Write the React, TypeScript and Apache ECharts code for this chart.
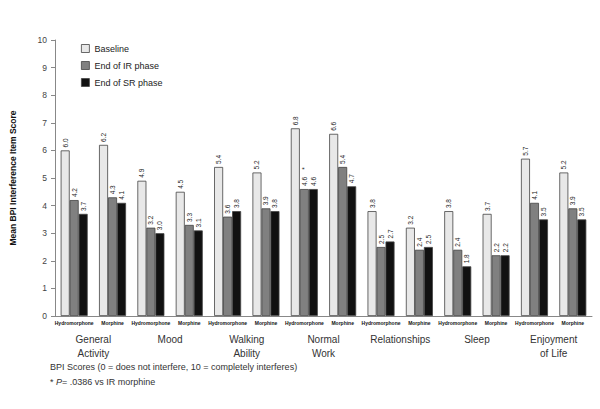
import React, { useEffect, useRef } from "react";
import * as echarts from "echarts";

const groups = ["General\nActivity", "Mood", "Walking\nAbility", "Normal\nWork", "Relationships", "Sleep", "Enjoyment\nof Life"];
const drugs = ["Hydromorphone", "Morphine"];
const seriesNames = ["Baseline", "End of IR phase", "End of SR phase"];
// order: per group [hydromorphone, morphine]
const baseline = [6.0, 6.2, 4.9, 4.5, 5.4, 5.2, 6.8, 6.6, 3.8, 3.2, 3.8, 3.7, 5.7, 5.2];
const endIR = [4.2, 4.3, 3.2, 3.3, 3.6, 3.9, 4.6, 5.4, 2.5, 2.4, 2.4, 2.2, 4.1, 3.9];
const endSR = [3.7, 4.1, 3.0, 3.1, 3.8, 3.8, 4.6, 4.7, 2.7, 2.5, 1.8, 2.2, 3.5, 3.5];
const starredIR = [6]; // index with * marker
const yTicks = [0, 1, 2, 3, 4, 5, 6, 7, 8, 9, 10];

const subCats = groups.flatMap(() => drugs);
const colors = ["#e8e8e8", "#808080", "#111111"];
const FONT = "Liberation Sans, Arial, sans-serif";

export default function App() {
  const ref = useRef<HTMLDivElement>(null);
  useEffect(() => {
    const chart = echarts.init(ref.current!, null, { renderer: "svg" });
    const mk = (name: string, vals: number[], idx: number) => ({
      name,
      type: "bar",
      xAxisIndex: 0,
      barWidth: 9,
      barGap: "0%",
      data: vals.map((v, i) => ({
        value: v,
        label:
          idx === 1 && starredIR.includes(i)
            ? { formatter: v.toFixed(1) + "    *" }
            : undefined,
      })),
      itemStyle: { color: colors[idx], borderColor: "#444", borderWidth: 0.8 },
      label: {
        show: true,
        position: "top",
        rotate: 90,
        align: "left",
        verticalAlign: "middle",
        distance: 3,
        fontSize: 6.5,
        fontFamily: FONT,
        color: "#222",
        formatter: (p: any) => Number(p.value).toFixed(1),
      },
    });
    chart.setOption({
      animation: false,
      backgroundColor: "#fff",
      textStyle: { fontFamily: FONT },
      legend: {
        orient: "vertical",
        left: 76,
        top: 39,
        itemWidth: 8,
        itemHeight: 8,
        itemGap: 8,
        icon: "rect",
        data: seriesNames.map((n, i) => ({ name: n, itemStyle: { color: colors[i], borderColor: "#444", borderWidth: 0.8 } })),
        textStyle: { fontSize: 9, color: "#222", fontFamily: FONT },
      },
      grid: { left: 52, right: 8, top: 40, bottom: 93, containLabel: false },
      xAxis: [
        {
          type: "category",
          data: subCats,
          axisLine: { lineStyle: { color: "#888", width: 1 } },
          axisTick: { show: false },
          axisLabel: { fontSize: 5, fontWeight: "bold", color: "#111", margin: 4, interval: 0, fontFamily: FONT },
        },
        {
          type: "category",
          data: groups,
          position: "bottom",
          axisLine: { show: false },
          axisTick: { show: false },
          axisLabel: { fontSize: 10, color: "#333", margin: 16, interval: 0, lineHeight: 14, fontFamily: FONT },
        },
      ],
      yAxis: {
        type: "value",
        min: 0,
        max: 10,
        interval: 1,
        name: "Mean BPI Interference Item Score",
        nameLocation: "middle",
        nameGap: 38,
        nameTextStyle: { fontSize: 8.5, fontWeight: "bold", color: "#111", fontFamily: FONT },
        axisLine: { show: true, lineStyle: { color: "#888" } },
        axisTick: { show: true, length: 4, lineStyle: { color: "#888" } },
        splitLine: { show: false },
        axisLabel: { fontSize: 8.5, color: "#444", margin: 8, fontFamily: FONT, formatter: (v: number) => (yTicks.includes(v) ? String(v) : "") },
      },
      series: [mk(seriesNames[0], baseline, 0), mk(seriesNames[1], endIR, 1), mk(seriesNames[2], endSR, 2)],
      graphic: [
        {
          type: "text",
          left: 50,
          top: 362,
          style: { text: "BPI Scores (0 = does not interfere, 10 = completely interferes)", fontSize: 9, fill: "#333", fontFamily: FONT },
        },
        {
          type: "text",
          left: 50,
          top: 377,
          style: {
            text: "* {i|P}= .0386 vs IR morphine",
            fontSize: 9,
            fill: "#333",
            fontFamily: FONT,
            rich: { i: { fontStyle: "italic", fontSize: 9, fill: "#333", fontFamily: FONT } },
          },
        },
      ],
    });
    return () => chart.dispose();
  }, []);
  return <div ref={ref} style={{ width: 600, height: 409, position: "absolute", left: 0, top: 0 }} />;
}
